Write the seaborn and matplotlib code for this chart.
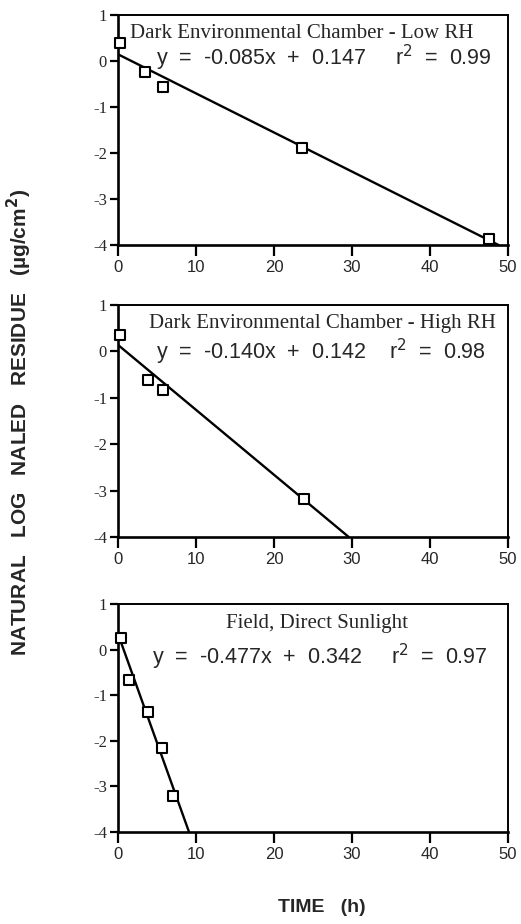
import numpy as np
import pandas as pd
import matplotlib
matplotlib.use("Agg")
import matplotlib.pyplot as plt
import seaborn as sns

# 数据：三个处理条件下的时间 (h) 与残留量自然对数
titles = ["Dark Environmental Chamber - Low RH",
          "Dark Environmental Chamber - High RH",
          "Field, Direct Sunlight"]
equations = ["y  =  -0.085x  +  0.147     r$^2$  =  0.99",
             "y  =  -0.140x  +  0.142    r$^2$  =  0.98",
             "y  =  -0.477x  +  0.342     r$^2$  =  0.97"]
slopes = [-0.085, -0.140, -0.477]
intercepts = [0.147, 0.142, 0.342]

time_low = [0.3, 3.4, 5.8, 23.6, 47.6]
resid_low = [0.40, -0.23, -0.57, -1.88, -3.86]
time_high = [0.3, 3.8, 5.8, 23.9]
resid_high = [0.36, -0.61, -0.82, -3.18]
time_field = [0.4, 1.4, 3.8, 5.6, 7.0]
resid_field = [0.26, -0.66, -1.37, -2.15, -3.22]

xs = [time_low, time_high, time_field]
ys = [resid_low, resid_high, resid_field]
x_ticks = [0, 10, 20, 30, 40, 50]
y_ticks = [-4, -3, -2, -1, 0, 1]

sns.set_style("ticks")
plt.rcParams['font.family'] = ['Liberation Sans', 'DejaVu Sans']

fig = plt.figure(figsize=(5.21, 9.24), dpi=100)

# 每个面板的位置 (left, bottom, width, height)
boxes = [(0.2265, 0.7348, 0.7486, 0.2489),
         (0.2265, 0.4188, 0.7486, 0.2510),
         (0.2265, 0.0996, 0.7486, 0.2468)]
title_pos = [(23.6, 0.60), (26.2, 0.60), (25.5, 0.58)]
eq_pos = [(26.4, 0.07), (26.0, 0.0), (25.9, -0.16)]

for i in range(3):
    ax = fig.add_axes(boxes[i])
    # 回归直线，画到 y = -4 为止
    x_end = min(50, (-4 - intercepts[i]) / slopes[i])
    line_x = np.array([0, x_end])
    line_df = pd.DataFrame({"x": line_x, "y": slopes[i] * line_x + intercepts[i]})
    sns.lineplot(data=line_df, x="x", y="y", ax=ax, color="black", linewidth=1.7)
    pts = pd.DataFrame({"x": xs[i], "y": ys[i]})
    sns.scatterplot(data=pts, x="x", y="y", ax=ax, marker="s", s=50,
                    facecolor="white", edgecolor="black", linewidth=1.5, zorder=5,
                    clip_on=False)
    ax.set_xlim(0, 50)
    ax.set_ylim(-4, 1)
    ax.set_xticks(x_ticks)
    ax.set_yticks(y_ticks)
    ax.set_xticklabels([str(t) for t in x_ticks], fontsize=12, family='Liberation Sans')
    ax.set_yticklabels([str(t) for t in y_ticks], fontsize=12, family='Liberation Serif')
    ax.set_xlabel("")
    ax.set_ylabel("")
    ax.tick_params(axis="x", direction="out", length=8, width=1.6, color="black", pad=3)
    ax.tick_params(axis="y", direction="out", length=6, width=1.6, color="black", pad=2)
    for side in ["left", "bottom"]:
        ax.spines[side].set_linewidth(1.9)
    for side in ["top", "right"]:
        ax.spines[side].set_visible(True)
        ax.spines[side].set_linewidth(1.4)
    for sp in ax.spines.values():
        sp.set_color("black")
    ax.text(title_pos[i][0], title_pos[i][1], titles[i], ha="center", va="center",
            fontsize=15, family='Liberation Serif')
    ax.text(eq_pos[i][0], eq_pos[i][1], equations[i], ha="center", va="center",
            fontsize=15.5, family='Liberation Sans')

fig.text(0.038, 0.543, "NATURAL   LOG   NALED   RESIDUE   (µg/cm$^\\mathbf{2}$)", rotation=90,
         ha="center", va="center", fontsize=15, fontweight="bold")
fig.text(0.618, 0.018, "TIME   (h)", ha="center", va="center", fontsize=14, fontweight="bold")

fig.savefig("out.png", dpi=100)
